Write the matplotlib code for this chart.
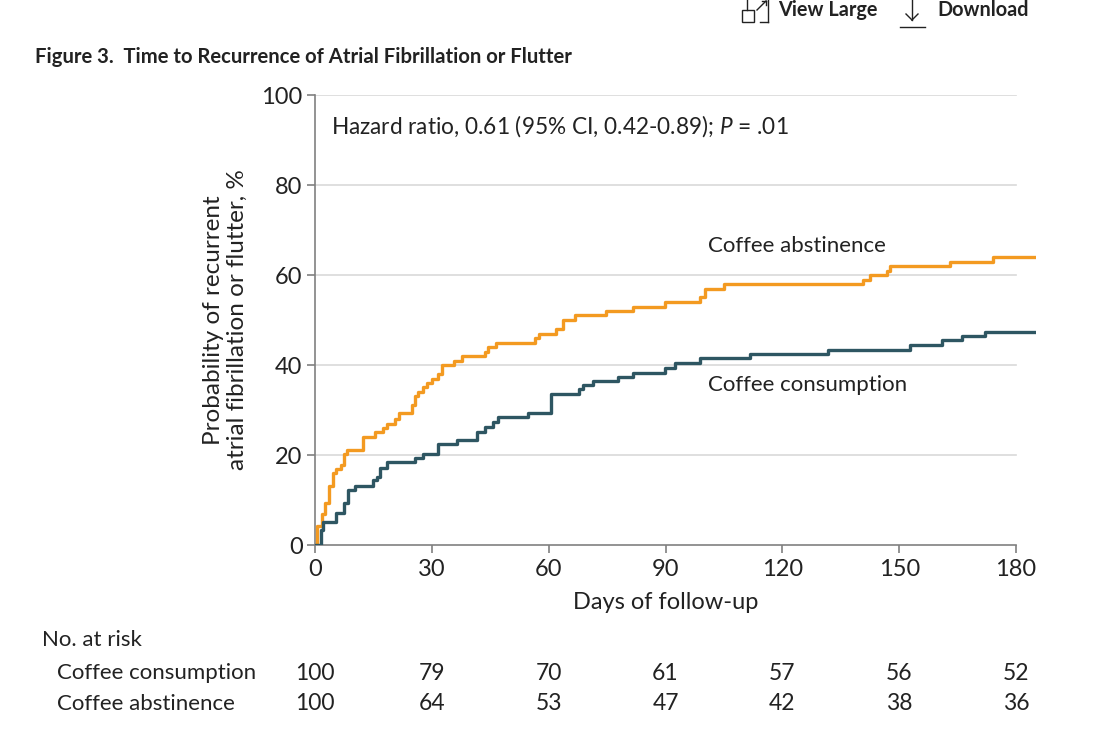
import matplotlib
matplotlib.use("Agg")
import matplotlib.pyplot as plt
import matplotlib.transforms as mtransforms
from matplotlib.lines import Line2D
from matplotlib.patches import Rectangle

plt.rcParams['font.family'] = ['Lato', 'DejaVu Sans']
plt.rcParams['mathtext.fontset'] = 'custom'
plt.rcParams['mathtext.it'] = 'Lato:italic'
plt.rcParams['mathtext.rm'] = 'Lato'

# Kaplan-Meier style curves (days, cumulative %)
days_abst = [0, 0.4, 1.7, 2.6, 3.6, 4.5, 5.5, 6.6, 7.4, 8.3, 12.4, 15.4, 17.5, 18.6,
             20.5, 21.5, 24.8, 25.7, 26.5, 27.7, 28.7, 30, 31.7, 32.5, 35.7, 37.7,
             43.7, 44.5, 46.6, 56.5, 57.6, 62, 63.7, 66.8, 74.7, 81.7, 89.9, 98.9,
             100.1, 104.9, 140.8, 142.6, 146.8, 147.7, 163, 174.2, 185]
pct_abst = [0, 4.2, 7, 9.3, 13.1, 16, 17, 17.8, 20.2, 21.1, 24, 25.2, 26.1, 27,
            28.1, 29.3, 31.1, 33.2, 34, 35.2, 36.1, 37, 38, 40, 40.9, 42,
            43, 44, 45, 45.9, 47, 48, 50.1, 51.1, 52.1, 53, 54.1, 55.2,
            56.8, 58, 59, 60, 61, 62, 63, 63.9, 63.9]

days_cons = [0, 1.5, 2.1, 5.4, 7.4, 8.6, 10.3, 15, 15.8, 16.7, 18.6, 25.7, 27.8,
             31.7, 36.4, 41.5, 43.7, 45.8, 46.9, 54.8, 60.5, 67.9, 68.9, 71.5,
             77.9, 81.7, 89.9, 92.4, 98.9, 111.7, 131.8, 152.8, 160.9, 166, 172, 185]
pct_cons = [0, 3.3, 5.2, 7.2, 9.3, 12.2, 13.1, 14.4, 15.2, 17.2, 18.4, 19.3, 20.2,
            22.4, 23.3, 25.2, 26.3, 27.4, 28.4, 29.4, 33.5, 34.6, 35.6, 36.5,
            37.4, 38.3, 39.4, 40.4, 41.5, 42.4, 43.3, 44.4, 45.6, 46.4, 47.4, 47.4]

x_ticks = [0, 30, 60, 90, 120, 150, 180]
y_ticks = [0, 20, 40, 60, 80, 100]
risk_groups = ["Coffee consumption", "Coffee abstinence"]
risk_cons = [100, 79, 70, 61, 57, 56, 52]
risk_abst = [100, 64, 53, 47, 42, 38, 36]

orange = '#F39A21'
teal = '#2E5662'
txt = '#222222'
W, H = 1116, 732

fig = plt.figure(figsize=(W / 100, H / 100), dpi=100)
ax = fig.add_axes([315 / W, 1 - 545 / H, (1035.5 - 315) / W, 450 / H])
ax.set_xlim(0, 185)
ax.set_ylim(0, 100)

for yv in y_ticks[1:]:
    ax.plot([0, 180], [yv, yv], color='#d9d9d9', lw=1.2, zorder=1)

ax.plot(days_abst, pct_abst, drawstyle='steps-post', color=orange, lw=2.4, zorder=3)
ax.plot(days_cons, pct_cons, drawstyle='steps-post', color=teal, lw=2.4, zorder=3)

for s in ['top', 'right']:
    ax.spines[s].set_visible(False)
for s in ['left', 'bottom']:
    ax.spines[s].set_color('#808080')
    ax.spines[s].set_linewidth(1.2)
ax.spines['bottom'].set_bounds(0, 180)
ax.set_xticks(x_ticks)
ax.set_yticks(y_ticks)
ax.tick_params(colors='#808080', labelcolor=txt, labelsize=17, length=6, width=1.2)
ax.tick_params(axis='x', pad=4)
ax.tick_params(axis='y', pad=3)

ax.set_xlabel("Days of follow-up", fontsize=17, color=txt)
ax.xaxis.set_label_coords(90 / 185, -0.105)
ax.set_ylabel("Probability of recurrent\natrial fibrillation or flutter, %",
              fontsize=17.5, color=txt, labelpad=10, linespacing=1.15)

ax.text(4, 93, r"Hazard ratio, 0.61 (95% CI, 0.42-0.89); $\mathit{P}$ = .01",
        fontsize=16.3, color=txt, va='center')
ax.text(101, 66.5, "Coffee abstinence", fontsize=16, color=txt, va='center')
ax.text(101, 35.5, "Coffee consumption", fontsize=16, color=txt, va='center')

# title and page header
fig.text(35 / W, 1 - 57 / H, "Figure 3.  Time to Recurrence of Atrial Fibrillation or Flutter",
         fontsize=14.6, weight='bold', color=txt, va='center')
fig.text(778 / W, 1 - 10 / H, "View Large", fontsize=14.3, weight='bold', color=txt, va='center')
fig.text(937 / W, 1 - 10 / H, "Download", fontsize=14.3, weight='bold', color=txt, va='center')


def px(x, y):
    return x / W, 1 - y / H


fig.patches.append(Rectangle(px(742, 22), 12 / W, 12 / H, fill=False,
                             edgecolor=txt, lw=1, transform=fig.transFigure))
for (x0, y0), (x1, y1) in [((747, 10), (747, 0)), ((760, 22), (768, 22)),
                           ((768, 22), (768, 0)), ((757, 10), (766, 1)),
                           ((762, 1), (766, 1)), ((766, 1), (766, 5)),
                           ((912, 0), (912, 20)), ((906, 14), (912, 20)),
                           ((918, 14), (912, 20)), ((900, 27), (925, 27))]:
    a, b = px(x0, y0)
    c, d = px(x1, y1)
    fig.lines.append(Line2D([a, c], [b, d], color=txt, lw=1, transform=fig.transFigure))

# number at risk table
fig.text(42 / W, 1 - 640 / H, "No. at risk", fontsize=16, color=txt, va='center')
trans = mtransforms.blended_transform_factory(ax.transData, fig.transFigure)
for i, (name, vals) in enumerate(zip(risk_groups, [risk_cons, risk_abst])):
    yy = 1 - (673 + 31 * i) / H
    fig.text(57 / W, yy, name, fontsize=16, color=txt, va='center')
    for xv, n in zip(x_ticks, vals):
        ax.text(xv, yy, str(n), transform=trans, fontsize=16.5, color=txt,
                ha='center', va='center')

fig.savefig("out.png", dpi=100)
